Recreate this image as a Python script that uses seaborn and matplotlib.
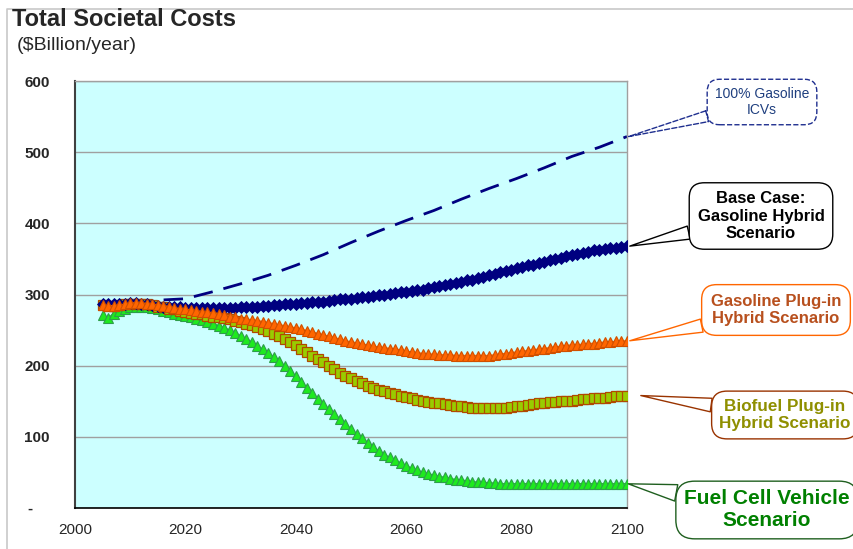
import numpy as np
import pandas as pd
import matplotlib
matplotlib.use("Agg")
import matplotlib.pyplot as plt
import seaborn as sns
from matplotlib.lines import Line2D

# Données (milliards $/an)
years = list(range(2005, 2101))

base_case = [287, 286, 286, 286, 287, 288, 288, 287, 286, 285,
             284, 283, 283, 282, 282, 281, 281, 281, 281, 281,
             281, 281, 281, 281, 281, 282, 282, 283, 283, 284,
             284, 285, 285, 286, 287, 287, 288, 288, 289, 289,
             290, 291, 292, 293, 293, 294, 295, 296, 297, 298,
             299, 300, 301, 302, 303, 304, 305, 306, 307, 309,
             310, 312, 313, 315, 316, 318, 320, 321, 323, 325,
             327, 329, 331, 333, 335, 337, 339, 341, 342, 344,
             346, 348, 350, 352, 354, 356, 357, 359, 360, 362,
             363, 364, 365, 366, 367, 368]

gasoline_phev = [285, 284, 284, 285, 286, 288, 288, 288, 287, 286,
                 285, 284, 283, 281, 280, 279, 278, 277, 276, 275,
                 274, 272, 271, 269, 268, 266, 265, 264, 263, 262,
                 260, 259, 257, 256, 254, 253, 251, 249, 247, 245,
                 243, 241, 239, 237, 235, 233, 232, 230, 229, 227,
                 226, 225, 224, 223, 222, 220, 219, 218, 217, 216,
                 216, 215, 215, 215, 214, 214, 214, 214, 214, 214,
                 214, 215, 216, 217, 218, 219, 220, 221, 222, 223,
                 224, 225, 226, 227, 228, 229, 229, 230, 231, 231,
                 232, 233, 233, 234, 234, 235]

biofuel_phev = [285, 284, 284, 285, 286, 287, 287, 287, 286, 285,
                283, 282, 280, 279, 277, 276, 274, 273, 272, 270,
                269, 268, 267, 265, 263, 261, 259, 257, 255, 252,
                249, 245, 241, 237, 233, 229, 224, 219, 214, 210,
                205, 200, 195, 190, 186, 182, 179, 175, 172, 169,
                166, 164, 162, 160, 158, 156, 154, 152, 151, 149,
                148, 147, 146, 145, 144, 143, 142, 141, 141, 140,
                140, 140, 140, 141, 142, 143, 144, 145, 146, 147,
                148, 149, 149, 150, 151, 151, 152, 153, 153, 154,
                155, 155, 156, 157, 157, 158]

fuel_cell = [271, 267, 273, 277, 280, 282, 283, 283, 282, 281,
             279, 277, 275, 273, 271, 270, 268, 266, 264, 262,
             259, 256, 253, 250, 246, 242, 238, 233, 228, 223,
             218, 212, 206, 199, 192, 185, 177, 169, 161, 153,
             146, 139, 132, 125, 118, 111, 104, 98, 92, 86,
             80, 75, 71, 67, 63, 59, 56, 53, 50, 48,
             46, 44, 43, 41, 40, 39, 38, 37, 36, 36,
             35, 35, 34, 34, 34, 34, 34, 34, 34, 34,
             34, 34, 34, 34, 34, 34, 34, 34, 34, 34,
             34, 34, 34, 34, 34, 34]

icv_years = [2005, 2010, 2015, 2020, 2025, 2030, 2035, 2040, 2045, 2050,
             2055, 2060, 2065, 2070, 2075, 2080, 2085, 2090, 2095, 2100]
icv_100 = [288, 290, 292, 294, 304, 315, 327, 341, 356, 373,
           389, 404, 418, 434, 449, 463, 478, 494, 507, 522]

y_ticks = [0, 100, 200, 300, 400, 500, 600]
y_labels = ["-    ", "100", "200", "300", "400", "500", "600"]
x_ticks = [2000, 2020, 2040, 2060, 2080, 2100]

sns.set_style("white")
plt.rcParams["font.family"] = ["Liberation Sans", "DejaVu Sans"]

fig = plt.figure(figsize=(8.54, 5.49), dpi=100)
ax = fig.add_axes([0.0878, 0.0747, 0.6464, 0.7777])
ax.set_facecolor("#CCFFFF")

df = pd.DataFrame({"year": years, "base": base_case, "gphev": gasoline_phev,
                   "bphev": biofuel_phev, "fcv": fuel_cell})
df_icv = pd.DataFrame({"year": icv_years, "icv": icv_100})

# Ligne pointillée : 100% ICV essence
sns.lineplot(data=df_icv, x="year", y="icv", ax=ax, color="#000080",
             linewidth=2.0, linestyle=(0, (7, 4)), zorder=2)
# Pile à combustible
sns.lineplot(data=df, x="year", y="fcv", ax=ax, color="#22DD22", linewidth=1.2,
             marker="^", markersize=7.2, markerfacecolor="#1EEA1E",
             markeredgecolor="#2E9E4A", markeredgewidth=0.8, zorder=3)
# Biocarburant plug-in
sns.lineplot(data=df, x="year", y="bphev", ax=ax, color="#99CC00", linewidth=1.2,
             marker="s", markersize=6.5, markerfacecolor="#99CC00",
             markeredgecolor="#B04A00", markeredgewidth=0.9, zorder=4)
# Cas de base
sns.lineplot(data=df, x="year", y="base", ax=ax, color="#000080", linewidth=1.5,
             marker="D", markersize=6, markerfacecolor="#000080",
             markeredgecolor="#000080", markeredgewidth=0.6, zorder=5)
# Essence plug-in
sns.lineplot(data=df, x="year", y="gphev", ax=ax, color="#FF6600", linewidth=1.2,
             marker="^", markersize=7.2, markerfacecolor="#FF6600",
             markeredgecolor="#D05000", markeredgewidth=0.8, zorder=6)

ax.set_xlim(2000, 2100)
ax.set_ylim(0, 600)
ax.set_xticks(x_ticks)
ax.set_yticks(y_ticks)
ax.set_yticklabels(y_labels, fontweight="bold", fontsize=11)
ax.set_xticklabels([str(t) for t in x_ticks], fontsize=11)
ax.set_xlabel("")
ax.set_ylabel("")
ax.yaxis.grid(True, color="#A0A0A0", linewidth=1)
ax.set_axisbelow(True)
ax.tick_params(axis="y", direction="out", length=5, width=1, pad=13, color="black")
ax.tick_params(axis="x", direction="out", length=6, width=1, pad=5, color="black")
for side in ["top", "right"]:
    ax.spines[side].set_color("#A0A0A0")
    ax.spines[side].set_linewidth(1)
ax.spines["left"].set_color("#404040")
ax.spines["left"].set_linewidth(1.5)
ax.spines["bottom"].set_color("black")
ax.spines["bottom"].set_linewidth(1.2)

# Cadre du graphique (haut et gauche seulement)
x0, y0 = 7 / 854, 1 - 9 / 549
fig.lines.append(Line2D([x0, x0, 1.0], [0.0, y0, y0], transform=fig.transFigure,
                        color="#C8C8C8", linewidth=1.2))

fig.text(12 / 854, 1 - 20 / 549, "Total Societal Costs", fontsize=17,
         fontweight="bold", va="center", ha="left")
fig.text(17 / 854, 1 - 46 / 549, "($Billion/year)", fontsize=14,
         va="center", ha="left")


def callout(text, xy, center, color, textcolor, size, weight="bold", ls="-", pad=0.55):
    ax.annotate(text, xy=xy, xycoords="data",
                xytext=(center[0], 549 - center[1]), textcoords="figure pixels",
                ha="center", va="center", fontsize=size, fontweight=weight,
                color=textcolor, linespacing=1.2, annotation_clip=False,
                bbox=dict(boxstyle=f"round,pad={pad},rounding_size=0.9",
                          facecolor="white", edgecolor=color, linewidth=1, linestyle=ls),
                arrowprops=dict(arrowstyle="wedge,tail_width=0.8", facecolor="white",
                                edgecolor=color, linewidth=1, linestyle=ls,
                                shrinkA=0, shrinkB=0),
                zorder=10)


callout("100% Gasoline\nICVs", (2100.3, 522), (762, 102), "#1F2F8F", "#1F3F7F", 10,
        weight="normal", ls="--", pad=0.55)
callout("Base Case:\nGasoline Hybrid\nScenario", (2100.5, 368), (761, 216), "black",
        "black", 12, pad=0.5)
callout("Gasoline Plug-in\nHybrid Scenario", (2100.5, 235), (776, 310), "#FF6600",
        "#B8501E", 12, pad=0.55)
callout("Biofuel Plug-in\nHybrid Scenario", (2102.5, 158), (785, 415), "#993300",
        "#8F8F00", 12.3, pad=0.45)
callout("Fuel Cell Vehicle\nScenario", (2100.2, 34), (767, 510), "#1F5F1F",
        "#008000", 15, pad=0.4)

plt.savefig("out.png", dpi=100)
